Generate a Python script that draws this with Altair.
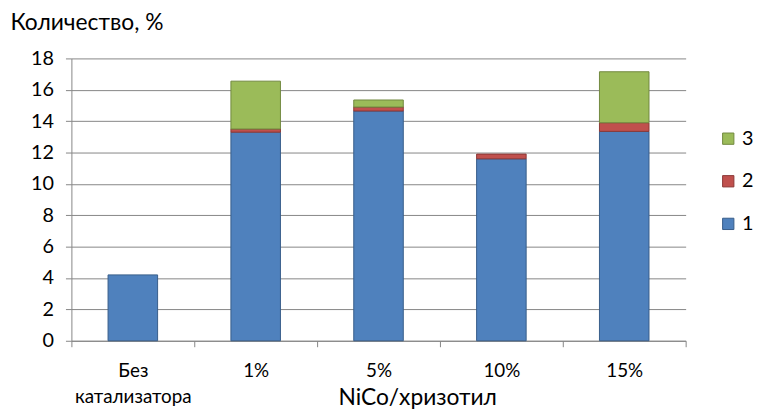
import altair as alt
import pandas as pd

categories = ["Без|катализатора", "1%", "5%", "10%", "15%"]
series_names = ["1", "2", "3"]
s1 = [4.2, 13.3, 14.65, 11.6, 13.35]
s2 = [0.0, 0.2, 0.25, 0.3, 0.55]
s3 = [0.0, 3.05, 0.45, 0.0, 3.25]
y_ticks = [0, 2, 4, 6, 8, 10, 12, 14, 16, 18]

fills = ["#4F81BD", "#C0504D", "#9BBB59"]
strokes = ["#385D8A", "#8C3836", "#71893F"]

rows = []
for name, vals in zip(series_names, [s1, s2, s3]):
    for c, v in zip(categories, vals):
        if v > 0:
            rows.append({"cat": c, "series": name, "value": v, "ord": int(name)})
df = pd.DataFrame(rows)

FONT = "Lato"
legend_domain = ["3", "2", "1"]

def make_legend():
    return alt.Legend(title=None, orient="none", legendX=653, legendY=71,
                      values=legend_domain, symbolType="square",
                      symbolSize=130, labelFontSize=20, labelColor="#000000",
                      rowPadding=23, symbolStrokeWidth=1, labelOffset=4)

chart = alt.Chart(df).mark_bar(size=50, strokeWidth=1).encode(
    x=alt.X("cat:N", sort=categories,
            scale=alt.Scale(paddingInner=0, paddingOuter=0),
            axis=alt.Axis(title="NiCo/хризотил", labelAngle=0,
                          labelExpr="split(datum.label, '|')",
                          labelFontSize=19, labelLineHeight=26,
                          labelPadding=15, tickBand="extent", tickSize=6,
                          tickColor="#868686", domainColor="#868686",
                          labelColor="#000000", titleColor="#000000",
                          titleFontSize=23, titleFontWeight="normal",
                          titleX=349, titleY=64, titleBaseline="alphabetic",
                          titleAnchor="middle", grid=False)),
    y=alt.Y("value:Q", stack="zero",
            scale=alt.Scale(domain=[0, 18], nice=False),
            axis=alt.Axis(title="Количество, %", values=y_ticks,
                          titleAngle=0, titleX=-62, titleY=-29,
                          titleAlign="left", titleBaseline="alphabetic",
                          titleFontSize=23, titleFontWeight="normal",
                          titleColor="#000000", labelColor="#000000",
                          labelFontSize=20, labelPadding=12, tickSize=6,
                          tickColor="#868686", domainColor="#868686",
                          gridColor="#868686", gridWidth=1)),
    fill=alt.Fill("series:N",
                  scale=alt.Scale(domain=series_names, range=fills),
                  legend=make_legend()),
    stroke=alt.Stroke("series:N",
                      scale=alt.Scale(domain=series_names, range=strokes),
                      legend=make_legend()),
    order=alt.Order("ord:Q", sort="ascending"),
).properties(
    width=620, height=285,
    autosize=alt.AutoSizeParams(type="none"),
    padding={"left": 64, "top": 49, "right": 70, "bottom": 70},
).configure(font=FONT).configure_view(stroke=None).configure_axis(
    labelFont=FONT, titleFont=FONT
).configure_legend(labelFont=FONT)

chart.save("out.html", embed_options={"renderer": "svg", "actions": False})
